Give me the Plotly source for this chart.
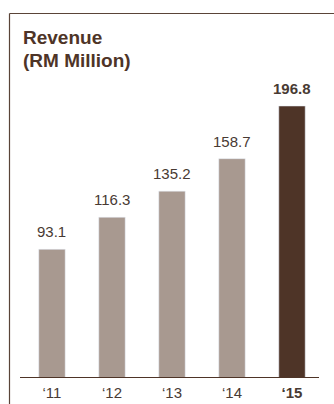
import plotly.graph_objects as go

years = ["‘11", "‘12", "‘13", "‘14", "‘15"]
revenue = [93.1, 116.3, 135.2, 158.7, 196.8]
colors = ["#a89990", "#a89990", "#a89990", "#a89990", "#4e3427"]
title_lines = ["Revenue", "(RM Million)"]

FONT = "Liberation Sans, Arial, sans-serif"
W, H = 334, 404
L, R, T, B = 20, 15, 60, 26
pw, ph = W - L - R, H - T - B

def px_x(p):
    return (p - L) / pw

def px_y(p):
    return (H - B - p) / ph

xs = list(range(len(years)))
fig = go.Figure(go.Bar(x=xs, y=revenue, marker_color=colors, width=0.44,
                       hoverinfo="skip"))

ann = []
for i, v in enumerate(revenue):
    bold = i == len(revenue) - 1
    ann.append(dict(x=i, y=v, xref="x", yref="y", text=(f"<b>{v}</b>" if bold else f"{v}"),
                    showarrow=False, yanchor="bottom", yshift=7,
                    font=dict(size=15, color="#483a33", family=FONT)))
for k, line in enumerate(title_lines):
    ann.append(dict(x=px_x(21), y=px_y(25 + 23 * k), xref="paper", yref="paper",
                    xanchor="left", yanchor="top", align="left", showarrow=False,
                    text=f"<b>{line}</b>",
                    font=dict(size=19, color="#4e3427", family=FONT)))

shapes = [
    dict(type="line", xref="paper", yref="paper", x0=px_x(9.5), x1=px_x(340), y0=px_y(13.5), y1=px_y(13.5),
         line=dict(color="#5a4438", width=1.2)),
    dict(type="line", xref="paper", yref="paper", x0=px_x(9.5), x1=px_x(9.5), y0=px_y(13.5), y1=px_y(410),
         line=dict(color="#5a4438", width=1.2)),
    dict(type="line", xref="paper", yref="y", x0=0, x1=1, y0=0, y1=0,
         line=dict(color="#4e3427", width=2.2)),
]

fig.update_layout(
    width=W, height=H, margin=dict(l=L, r=R, t=T, b=B, autoexpand=False),
    paper_bgcolor="white", plot_bgcolor="white", showlegend=False,
    annotations=ann, shapes=shapes,
    xaxis=dict(range=[-0.533, 4.45], tickvals=xs, automargin=False,
               ticktext=years[:-1] + ["<b>" + years[-1] + "</b>"],
               showgrid=False, zeroline=False, showline=False, ticks="",
               ticklabelstandoff=4,
               tickfont=dict(size=15, color="#483a33", family=FONT)),
    yaxis=dict(range=[0, ph / 1.382], visible=False, showgrid=False, zeroline=False,
               automargin=False),
)

fig.write_html("out.html", config={"displayModeBar": False})
